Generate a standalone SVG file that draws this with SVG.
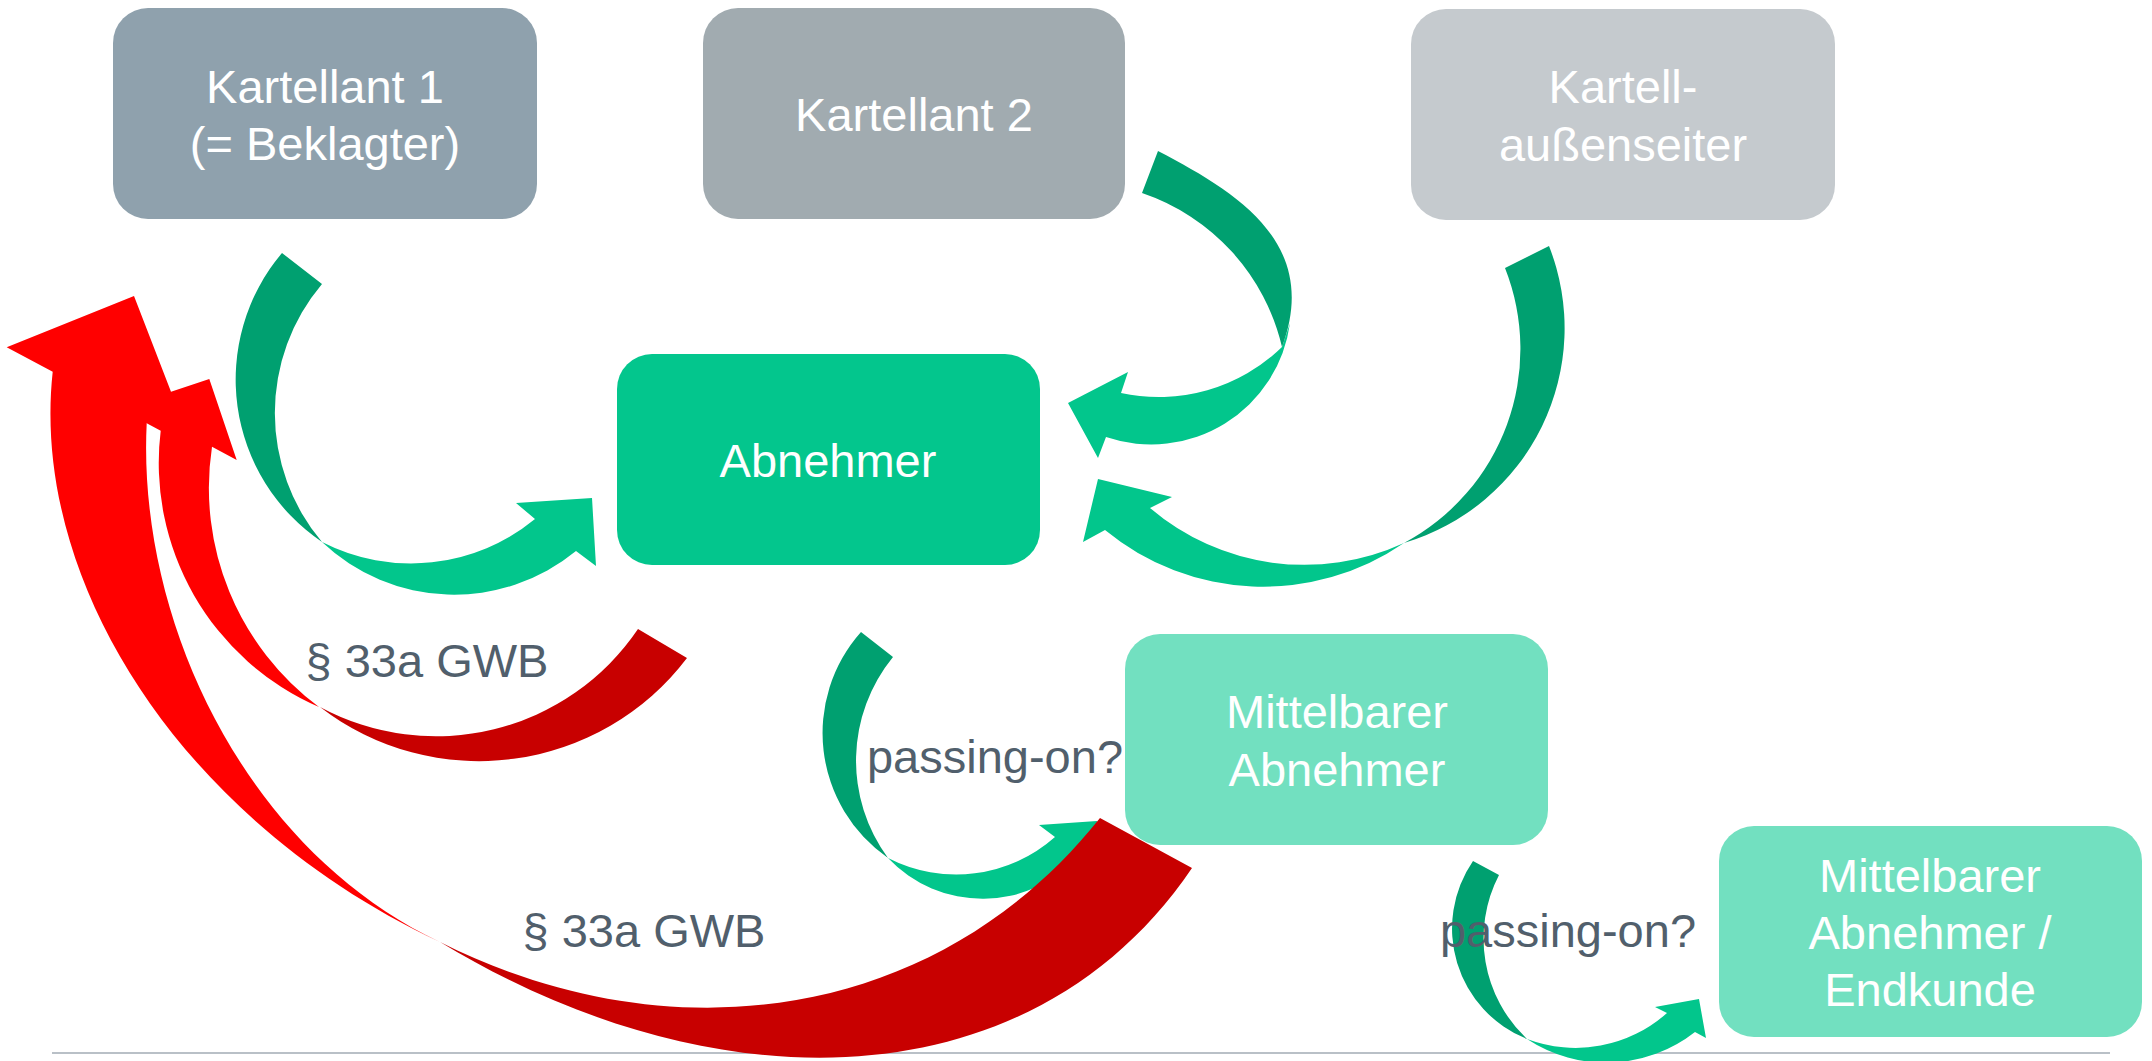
<svg xmlns="http://www.w3.org/2000/svg" width="2152" height="1061" viewBox="0 0 2152 1061">
<style>
.nt{font-family:"Liberation Sans",Arial,sans-serif;font-size:47px;fill:#ffffff;text-anchor:middle}
.lb{font-family:"Liberation Sans",Arial,sans-serif;font-size:47px;fill:#515F6C;text-anchor:middle}
.dg{fill:#00A070}
.lg{fill:#02C68C}
.rb{fill:#FF0000}
.rd{fill:#C80000}
</style>
<rect width="2152" height="1061" fill="#ffffff"/>
<line x1="52" y1="1053" x2="2110" y2="1053" stroke="#B9C0C7" stroke-width="2"/>
<g id="k1"><rect x="113" y="8" width="424" height="211" rx="35" fill="#8FA1AD"/><text class="nt" x="325" y="103">Kartellant 1</text><text class="nt" x="325" y="160">(= Beklagter)</text></g>
<g id="k2"><rect x="703" y="8" width="422" height="211" rx="35" fill="#A1ABB0"/><text class="nt" x="914" y="131">Kartellant 2</text></g>
<g id="ka"><rect x="1411" y="9" width="424" height="211" rx="35" fill="#C5CACE"/><text class="nt" x="1623" y="103">Kartell-</text><text class="nt" x="1623" y="161">außenseiter</text></g>
<g id="ab"><rect x="617" y="354" width="423" height="211" rx="35" fill="#03C68D"/><text class="nt" x="828" y="477">Abnehmer</text></g>
<g id="ma"><rect x="1125" y="634" width="423" height="211" rx="35" fill="#72E0C0"/><text class="nt" x="1337" y="728">Mittelbarer</text><text class="nt" x="1337" y="786">Abnehmer</text></g>
<g id="me"><rect x="1719" y="826" width="423" height="211" rx="35" fill="#72E0C0"/><text class="nt" x="1930" y="892">Mittelbarer</text><text class="nt" x="1930" y="949">Abnehmer /</text><text class="nt" x="1930" y="1006">Endkunde</text></g>
<g id="connectors">
<path class="dg" d="M282,253 L322,284 A200 200 0 0 0 322,542 A196 196 0 0 1 282,253 Z"/>
<path class="lg" d="M322,542 A192 192 0 0 0 576,551 L596,566 L592,498 L516,503 L535,519 A195 195 0 0 1 322,542 Z"/>
<path class="lg" d="M1282,347 L1290,323 A140 140 0 0 1 1106,437 L1098,458 L1068,403 L1128,372 L1121,393 A177 177 0 0 0 1282,347 Z"/>
<path class="dg" d="M1158,151 C1237.8,192.6 1320.5,243.6 1282,347 A214 214 0 0 0 1142,193 Z"/>
<path class="dg" d="M1549,246 A224 224 0 0 1 1404,543 A220 220 0 0 0 1505,268 Z"/>
<path class="lg" d="M1404,543 A249 249 0 0 1 1105,530 L1083,542 L1098,479 L1172,497 L1150,508 A238 238 0 0 0 1404,543 Z"/>
<path class="dg" d="M861,632 L893,657 A164 164 0 0 0 888,858 A152 152 0 0 1 861,632 Z"/>
<path class="lg" d="M888,858 A130 130 0 0 0 1079,856 L1093,866 L1097,821 L1039,825 L1055,837 A149 149 0 0 1 888,858 Z"/>
<path class="dg" d="M1473,861 L1499,875 A138 138 0 0 0 1527,1039 A119 119 0 0 1 1473,861 Z"/>
<path class="lg" d="M1527,1039 A144 144 0 0 0 1695,1032 L1706,1038 L1699,999 L1655,1007 L1667,1013 A137 137 0 0 1 1527,1039 Z"/>
<path class="rd" d="M638,629 L687,658 A261 261 0 0 1 320,707 A244 244 0 0 0 638,629 Z"/>
<path class="rb" d="M319,707 A266 266 0 0 1 160.7,430.7 L146.7,423.3 L150,398.7 L209.3,379 L236.7,460 L212,446.7 A273 273 0 0 0 319,707 Z"/>
<path class="rd" d="M1100,818 L1192,868 C1035,1100 722.5,1112.6 440,942 C672.4,1058.5 938,1021.6 1100,818 Z"/>
<path class="rb" d="M440,942 C180,820 30,580 52.7,371.7 L6.7,347.3 L134,296 L171,391.7 L146.7,423.3 C137,620 245,850 440,942 Z"/>
</g>
<g id="labels">
<text class="lb" x="427" y="677">§ 33a GWB</text>
<text class="lb" x="644" y="947">§ 33a GWB</text>
<text class="lb" x="995" y="773">passing-on?</text>
<text class="lb" x="1568" y="947">passing-on?</text>
</g>
</svg>
